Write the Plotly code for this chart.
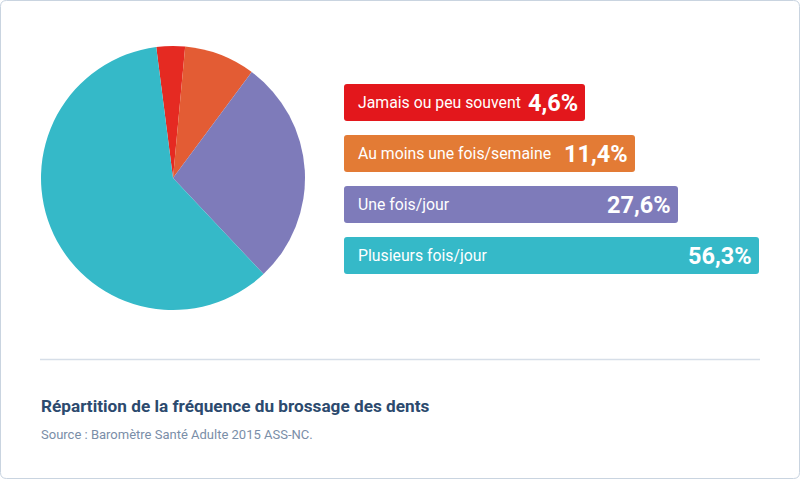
import plotly.graph_objects as go

# ---- data ----
categories = ["Jamais ou peu souvent", "Au moins une fois/semaine", "Une fois/jour", "Plusieurs fois/jour"]
percent_labels = ["4,6%", "11,4%", "27,6%", "56,3%"]
slice_shares = [3.5, 8.7, 27.8, 60.0]          # slice sizes as drawn in the pie
pie_colors = ["#E52A22", "#E35C34", "#7E7BBA", "#35B9C8"]
box_colors = ["#E3171C", "#E37B35", "#7E7BBA", "#35B9C8"]
box_widths = [241, 291, 334, 415]                 # label boxes sized to their text
title_text = "Répartition de la fréquence du brossage des dents"
source_text = "Source : Baromètre Santé Adulte 2015 ASS-NC."

W, H = 800, 479


def px(x):
    return x / W


def py(y):
    return 1 - y / H


def rounded_path(x0, y0, x1, y1, r):
    X = lambda v: f"{px(v):.6f}"
    Y = lambda v: f"{py(v):.6f}"
    return (f"M {X(x0+r)},{Y(y0)} L {X(x1-r)},{Y(y0)} Q {X(x1)},{Y(y0)} {X(x1)},{Y(y0+r)} "
            f"L {X(x1)},{Y(y1-r)} Q {X(x1)},{Y(y1)} {X(x1-r)},{Y(y1)} "
            f"L {X(x0+r)},{Y(y1)} Q {X(x0)},{Y(y1)} {X(x0)},{Y(y1-r)} "
            f"L {X(x0)},{Y(y0+r)} Q {X(x0)},{Y(y0)} {X(x0+r)},{Y(y0)} Z")


fig = go.Figure()

fig.add_trace(go.Pie(
    labels=categories,
    values=slice_shares,
    marker=dict(colors=pie_colors, line=dict(width=0)),
    sort=False,
    direction="clockwise",
    rotation=-7.3,
    textinfo="none",
    hoverinfo="label+percent",
    domain=dict(x=[px(41), px(305)], y=[py(310), py(46)]),
    showlegend=False,
))

shapes = []
annotations = []

# outer frame
shapes.append(dict(type="path", xref="paper", yref="paper",
                   path=rounded_path(0.5, 0.5, W - 0.5, H - 0.5, 6),
                   line=dict(color="#C9D4E0", width=1), fillcolor="rgba(0,0,0,0)", layer="below"))

box_x0 = 344
box_top0 = 84
box_h = 37
box_step = 51
for i, (cat, pct, col, bw) in enumerate(zip(categories, percent_labels, box_colors, box_widths)):
    y0 = box_top0 + i * box_step
    y1 = y0 + box_h
    shapes.append(dict(type="path", xref="paper", yref="paper",
                       path=rounded_path(box_x0, y0, box_x0 + bw, y1, 3),
                       line=dict(width=0), fillcolor=col, layer="below"))
    yc = (y0 + y1) / 2
    annotations.append(dict(x=px(box_x0 + 12), y=py(yc), xref="paper", yref="paper",
                            xanchor="left", yanchor="middle", showarrow=False,
                            text=cat, font=dict(family="Roboto", size=15.8, color="white")))
    annotations.append(dict(x=px(box_x0 + bw - 5), y=py(yc + 0.5), xref="paper", yref="paper",
                            xanchor="right", yanchor="middle", showarrow=False,
                            text=f"<b>{pct}</b>", font=dict(family="Roboto", size=23.5, color="white")))

# divider
shapes.append(dict(type="line", xref="paper", yref="paper",
                   x0=px(40), x1=px(760), y0=py(359.5), y1=py(359.5),
                   line=dict(color="#D6DEE8", width=1.5)))

annotations.append(dict(x=px(39), y=py(406), xref="paper", yref="paper",
                        xanchor="left", yanchor="middle", showarrow=False,
                        text=f"<b>{title_text}</b>",
                        font=dict(family="Roboto", size=17.2, color="#2C4A6E")))
annotations.append(dict(x=px(39), y=py(434), xref="paper", yref="paper",
                        xanchor="left", yanchor="middle", showarrow=False,
                        text=source_text,
                        font=dict(family="Roboto", size=13, color="#7A8EA8")))

fig.update_layout(
    width=W, height=H,
    margin=dict(l=0, r=0, t=0, b=0),
    paper_bgcolor="white",
    plot_bgcolor="white",
    shapes=shapes,
    annotations=annotations,
    showlegend=False,
)

fig.write_html("out.html", config={"displayModeBar": False},
               post_script="document.body.style.margin='0';document.body.style.overflow='hidden';")
